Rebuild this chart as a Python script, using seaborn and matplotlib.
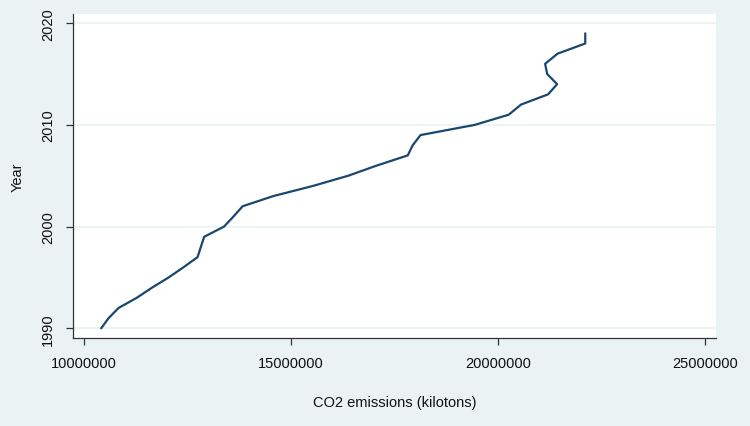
import pandas as pd
import numpy as np
import matplotlib
matplotlib.use('Agg')
import matplotlib.pyplot as plt
import seaborn as sns

# values
years = list(range(1990, 2020))
co2 = [10410000, 10590000, 10830000, 11270000, 11640000, 12040000, 12400000,
       12740000, 12820000, 12900000, 13380000, 13610000, 13830000, 14570000,
       15530000, 16380000, 17070000, 17820000, 17940000, 18130000, 19440000,
       20260000, 20560000, 21210000, 21430000, 21190000, 21140000, 21440000,
       22110000, 22110000]
x_ticks = [10000000, 15000000, 20000000, 25000000]
y_ticks = [1990, 2000, 2010, 2020]

df = pd.DataFrame({'Year': years, 'CO2': co2})

bg = '#eaf2f3'
sns.set_style('white')
plt.rcParams['font.family'] = ['Liberation Sans', 'DejaVu Sans']

fig = plt.figure(figsize=(7.5, 4.27), dpi=100, facecolor=bg)
# plot region in pixels: x 73..716, y 15..339
ax = fig.add_axes([73 / 750, 1 - 339 / 427, (716 - 73) / 750, (339 - 15) / 427])
ax.set_facecolor('white')

for t in y_ticks:
    ax.axhline(t, color=bg, lw=1.2, zorder=0)

sns.lineplot(data=df, x='CO2', y='Year', sort=False, estimator=None,
             color='#1a476f', lw=1.6, ax=ax)

ax.set_xlim(9730000, 25270000)
ax.set_ylim(1989.05, 2020.9)
ax.set_xticks(x_ticks)
ax.set_xticklabels([str(v) for v in x_ticks])
ax.set_yticks(y_ticks)
ax.set_yticklabels([str(v) for v in y_ticks], rotation=90, va='center')

for s in ['top', 'right']:
    ax.spines[s].set_visible(False)
for s in ['left', 'bottom']:
    ax.spines[s].set_color('#333333')
    ax.spines[s].set_linewidth(0.9)
ax.tick_params(axis='both', direction='out', length=5, width=0.9, color='#333333',
               labelsize=10.5, labelcolor='#111111', left=True, bottom=True, pad=8)

ax.set_xlabel('CO2 emissions (kilotons)', fontsize=10.5, labelpad=18, color='#111111')
ax.set_ylabel('Year', fontsize=10.5, labelpad=12, color='#111111')

fig.savefig('out.png', dpi=100, facecolor=bg)
